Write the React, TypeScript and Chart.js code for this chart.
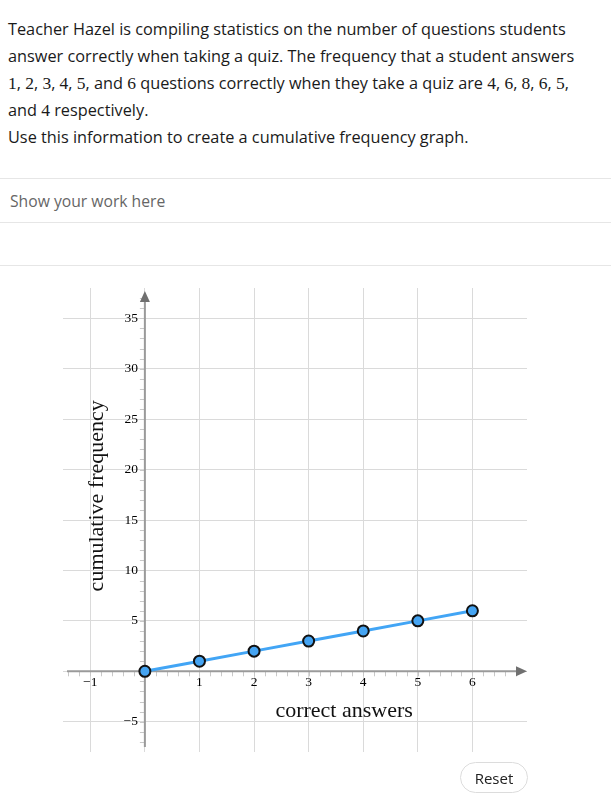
import React, { useEffect, useRef } from "react";
import { Chart, registerables } from "chart.js";

Chart.register(...registerables);

// ---- data ----
const CORRECT_ANSWERS = [0, 1, 2, 3, 4, 5, 6];
const CUMULATIVE_FREQUENCY = [0, 1, 2, 3, 4, 5, 6];

const X_GRID = [-1, 0, 1, 2, 3, 4, 5, 6];
const Y_GRID = [-5, 0, 5, 10, 15, 20, 25, 30, 35];
const X_TICK_VALUES = [-1, 1, 2, 3, 4, 5, 6];
const X_TICK_LABELS = ["\u22121", "1", "2", "3", "4", "5", "6"];
const Y_TICK_VALUES = [-5, 5, 10, 15, 20, 25, 30, 35];
const Y_TICK_LABELS = ["\u22125", "5", "10", "15", "20", "25", "30", "35"];
const X_TITLE = "correct answers";
const Y_TITLE = "cumulative frequency";

const X_MIN = -1.5;
const X_MAX = 7;
const Y_MIN = -8;
const Y_MAX = 38;

const SERIF = '"Liberation Serif", "DejaVu Serif", serif';

const axesPlugin = {
  id: "centerAxes",
  beforeDatasetsDraw(chart: any) {
    const ctx = chart.ctx;
    const xs = chart.scales.x;
    const ys = chart.scales.y;
    const area = chart.chartArea;
    const ox = xs.getPixelForValue(0);
    const oy = ys.getPixelForValue(0);
    ctx.save();

    // minor ticks
    ctx.strokeStyle = "#c8c8c8";
    ctx.lineWidth = 1;
    ctx.beginPath();
    for (let i = -7; i <= 34; i++) {
      const v = i / 5;
      const px = Math.round(xs.getPixelForValue(v)) + 0.5;
      ctx.moveTo(px, oy);
      ctx.lineTo(px, oy + 5);
    }
    for (let v = -7; v <= 37; v++) {
      const py = Math.round(ys.getPixelForValue(v)) + 0.5;
      ctx.moveTo(ox - 5, py);
      ctx.lineTo(ox, py);
    }
    ctx.stroke();

    // axis lines
    ctx.strokeStyle = "#9a9a9a";
    ctx.lineWidth = 2;
    ctx.beginPath();
    ctx.moveTo(area.left + 4, oy);
    ctx.lineTo(area.right - 8, oy);
    ctx.moveTo(ox, area.bottom - 5);
    ctx.lineTo(ox, area.top + 8);
    ctx.stroke();

    // arrows
    ctx.fillStyle = "#707070";
    ctx.beginPath();
    ctx.moveTo(area.right, oy);
    ctx.lineTo(area.right - 11, oy - 5);
    ctx.lineTo(area.right - 11, oy + 5);
    ctx.closePath();
    ctx.fill();
    ctx.beginPath();
    ctx.moveTo(ox, area.top + 3);
    ctx.lineTo(ox - 5, area.top + 14);
    ctx.lineTo(ox + 5, area.top + 14);
    ctx.closePath();
    ctx.fill();

    // tick labels
    ctx.fillStyle = "#000";
    ctx.font = "13.5px " + SERIF;
    ctx.textAlign = "center";
    ctx.textBaseline = "middle";
    X_TICK_VALUES.forEach((v, i) => {
      ctx.fillText(X_TICK_LABELS[i], xs.getPixelForValue(v), oy + 11);
    });
    ctx.textAlign = "right";
    Y_TICK_VALUES.forEach((v, i) => {
      ctx.fillText(Y_TICK_LABELS[i], ox - 7, ys.getPixelForValue(v));
    });

    // axis titles
    ctx.fillStyle = "#111";
    ctx.font = "22px " + SERIF;
    ctx.textAlign = "center";
    ctx.textBaseline = "alphabetic";
    ctx.fillText(X_TITLE, xs.getPixelForValue(3.65), ys.getPixelForValue(-4.5));
    ctx.save();
    ctx.translate(xs.getPixelForValue(-0.76), ys.getPixelForValue(17.4));
    ctx.rotate(-Math.PI / 2);
    ctx.fillText(Y_TITLE, 0, 0);
    ctx.restore();

    ctx.restore();
  },
};

function CumulativeChart() {
  const ref = useRef<HTMLCanvasElement | null>(null);
  useEffect(() => {
    if (!ref.current) return;
    const chart = new Chart(ref.current, {
      type: "line",
      data: {
        datasets: [
          {
            data: CORRECT_ANSWERS.map((x, i) => ({ x, y: CUMULATIVE_FREQUENCY[i] })),
            borderColor: "#42a5f5",
            borderWidth: 3,
            pointBackgroundColor: "#45a4f2",
            pointBorderColor: "#111",
            pointBorderWidth: 2,
            pointRadius: 5.5,
            fill: false,
            tension: 0,
            clip: false as any,
          },
        ],
      },
      options: {
        animation: false,
        responsive: false,
        maintainAspectRatio: false,
        layout: { padding: { left: 63, right: 84, top: 18, bottom: 18 } },
        plugins: { legend: { display: false }, tooltip: { enabled: false } },
        scales: {
          x: {
            type: "linear",
            min: X_MIN,
            max: X_MAX,
            border: { display: false },
            grid: { color: "#dadada", lineWidth: 1, drawTicks: false },
            ticks: { display: false },
            afterBuildTicks: (s: any) => {
              s.ticks = X_GRID.map((v) => ({ value: v }));
            },
            afterFit: (s: any) => {
              s.height = 0;
            },
          },
          y: {
            type: "linear",
            min: Y_MIN,
            max: Y_MAX,
            border: { display: false },
            grid: { color: "#dadada", lineWidth: 1, drawTicks: false },
            ticks: { display: false },
            afterBuildTicks: (s: any) => {
              s.ticks = Y_GRID.map((v) => ({ value: v }));
            },
            afterFit: (s: any) => {
              s.width = 0;
            },
          },
        },
      },
      plugins: [axesPlugin],
    });
    return () => chart.destroy();
  }, []);
  return <canvas ref={ref} width={611} height={500} style={{ position: "absolute", left: 0, top: 270, width: 611, height: 500 }} />;
}

const M: React.CSSProperties = { fontFamily: SERIF, fontSize: 17.5 };

export default function App() {
  return (
    <div style={{ position: "absolute", left: 0, top: 0, width: 611, height: 812, background: "#fff", fontFamily: "'Open Sans', Lato, sans-serif", color: "#1a1a1a" }}>
      <div style={{ position: "absolute", left: 8, top: 16, width: 603, fontSize: 16.3, lineHeight: "27px", whiteSpace: "nowrap" }}>
        Teacher Hazel is compiling statistics on the number of questions students
        <br />
        answer correctly when taking a quiz. The frequency that a student answers
        <br />
        <span style={M}>1</span>, <span style={M}>2</span>, <span style={M}>3</span>, <span style={M}>4</span>, <span style={M}>5</span>, and{" "}
        <span style={M}>6</span> questions correctly when they take a quiz are <span style={M}>4</span>, <span style={M}>6</span>,{" "}
        <span style={M}>8</span>, <span style={M}>6</span>, <span style={M}>5</span>,
        <br />
        and <span style={M}>4</span> respectively.
        <br />
        Use this information to create a cumulative frequency graph.
      </div>
      <div style={{ position: "absolute", left: 0, top: 178, width: 611, height: 1, background: "#e6e6e6" }} />
      <div style={{ position: "absolute", left: 10, top: 190, fontSize: 15.7, lineHeight: "22px", color: "#666" }}>Show your work here</div>
      <div style={{ position: "absolute", left: 0, top: 222, width: 611, height: 1, background: "#e6e6e6" }} />
      <div style={{ position: "absolute", left: 0, top: 265, width: 611, height: 1, background: "#e6e6e6" }} />
      <CumulativeChart />
      <div
        style={{
          position: "absolute",
          left: 460,
          top: 762,
          width: 66,
          height: 29,
          border: "1px solid #dcdcdc",
          borderRadius: 16,
          display: "flex",
          alignItems: "center",
          justifyContent: "center",
          fontSize: 15,
          color: "#222",
        }}
      >
        Reset
      </div>
    </div>
  );
}
